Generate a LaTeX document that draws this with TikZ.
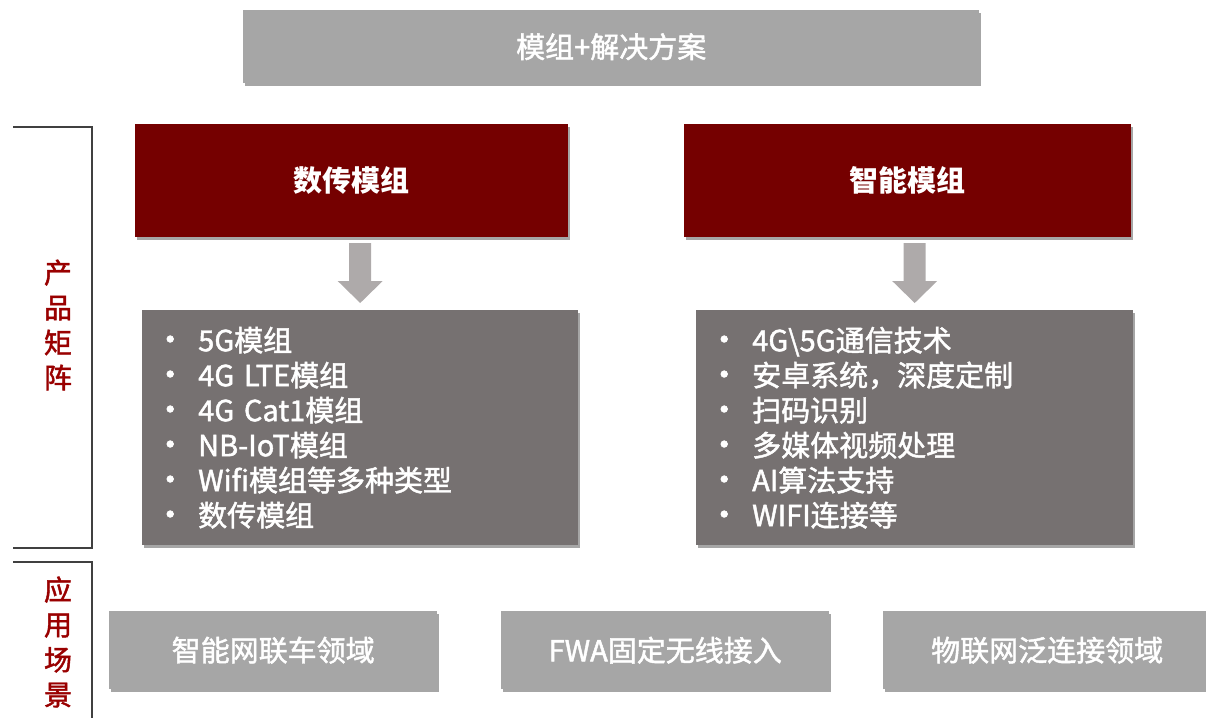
\documentclass[tikz,border=0pt]{standalone}
\usepackage{fontspec}
\setmainfont{Noto Sans CJK SC}
\newfontfamily\medfont{Noto Sans CJK SC}[FakeBold=1.6]
\usetikzlibrary{shadows,calc}
\definecolor{topgray}{HTML}{A6A6A6}
\definecolor{darkred}{HTML}{750000}
\definecolor{listgray}{HTML}{767171}
\definecolor{arrowgray}{HTML}{AEAAAA}
\definecolor{labelred}{HTML}{990000}
\definecolor{bracketc}{HTML}{404040}
\newcommand{\bul}{\makebox[56pt][c]{\fontsize{32}{20}\selectfont •}}
\begin{document}
\begin{tikzpicture}[x=1pt,y=-1pt,
  shadowed/.style={drop shadow={shadow xshift=2pt,shadow yshift=-3pt,opacity=0.35,fill=black}},
  basebox/.style={shadowed,inner sep=0pt,text=white,anchor=north west,font=\medfont\fontsize{29}{34}\selectfont},
  graybox/.style={basebox,fill=topgray},
  redbox/.style={basebox,fill=darkred,font=\fontsize{29}{34}\selectfont\bfseries},
  listbox/.style={basebox,fill=listgray,align=left,font=\medfont\fontsize{29}{35}\selectfont},
  vlabel/.style={text=labelred,align=center,font=\medfont\fontsize{28}{35}\selectfont},
  bracket/.style={draw=bracketc,line width=2pt},
  blockarrow/.style={fill=arrowgray}]
\useasboundingbox (0,0) rectangle (1206,717);

% top
\node[graybox,minimum width=736,minimum height=73] (top) at (243,10) {模组+解决方案};

% brackets and side labels
\draw[bracket] (13,127) -- (92,127) -- (92,548) -- (13,548);
\draw[bracket] (13,562) -- (92,562) -- (92,720);
\node[vlabel] (pm) at (58,325) {产\\品\\矩\\阵};
\node[vlabel] (yy) at (58,642) {应\\用\\场\\景};

% title boxes
\node[redbox,minimum width=433,minimum height=113] (r1) at (135,124) {数传模组};
\node[redbox,minimum width=447,minimum height=113] (r2) at (684,124) {智能模组};

% list boxes
\node[listbox,minimum width=436,minimum height=235,text width=436] (l1) at (142,310)
 {\bul 5G模组\\ \bul 4G LTE模组\\ \bul 4G Cat1模组\\ \bul NB-IoT模组\\ \bul Wifi模组等多种类型\\ \bul 数传模组};
\node[listbox,minimum width=437,minimum height=235,text width=437] (l2) at (696,310)
 {\bul 4G\textbackslash 5G通信技术\\ \bul 安卓系统，深度定制\\ \bul 扫码识别\\ \bul 多媒体视频处理\\ \bul AI算法支持\\ \bul WIFI连接等};

% block arrows
\foreach \n in {l1,l2}{
 \fill[blockarrow] ($(\n.north)+(-11,-67)$) -- ($(\n.north)+(11,-67)$) -- ($(\n.north)+(11,-29)$)
   -- ($(\n.north)+(22.5,-29)$) -- ($(\n.north)+(0,-7)$) -- ($(\n.north)+(-22.5,-29)$)
   -- ($(\n.north)+(-11,-29)$) -- cycle;
}

% bottom boxes
\node[graybox,minimum width=328,minimum height=78] (b1) at (109,611) {智能网联车领域};
\node[graybox,minimum width=328,minimum height=78] (b2) at (501,611) {FWA固定无线接入};
\node[graybox,minimum width=328,minimum height=78] (b3) at (883,611) {物联网泛连接领域};
\end{tikzpicture}
\end{document}
